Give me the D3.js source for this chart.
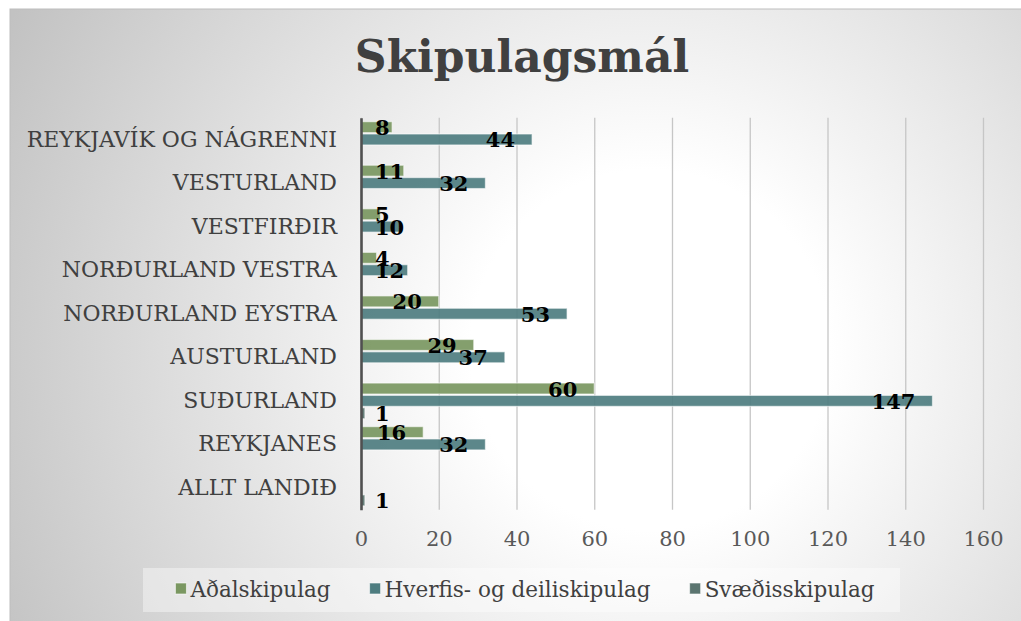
<!DOCTYPE html>
<html>
<head>
<meta charset="utf-8">
<script src="https://cdn.jsdelivr.net/npm/d3@7"></script>
<style>
  body { margin: 0; background: #ffffff; }
  svg { display: block; }
</style>
</head>
<body>
<div id="grafico"></div>
<script>
// datos
const CATEGORIAS = ["REYKJAVÍK OG NÁGRENNI", "VESTURLAND", "VESTFIRÐIR", "NORÐURLAND VESTRA",
    "NORÐURLAND EYSTRA", "AUSTURLAND", "SUÐURLAND", "REYKJANES", "ALLT LANDIÐ"];
const SERIES = ["Aðalskipulag", "Hverfis- og deiliskipulag", "Svæðisskipulag"];
const ADALSKIPULAG = [8, 11, 5, 4, 20, 29, 60, 16, null];
const HVERFISSKIPULAG = [44, 32, 10, 12, 53, 37, 147, 32, null];
const SVAEDISSKIPULAG = [null, null, null, null, null, null, 1, null, 1];
const TICKS_X = [0, 20, 40, 60, 80, 100, 120, 140, 160];
const TITULO = "Skipulagsmál";

const WIDTH = 1021;
const HEIGHT = 621;
const COLORES = ["#7a9761", "#4e7d80", "#5b7570"];
const FUENTE = "'DejaVu Serif', Georgia, serif";

const SVG = d3.select("#grafico").append("svg").attr("width", WIDTH).attr("height", HEIGHT);

// fondo con degradado radial
const defs = SVG.append("defs");
const grad = defs.append("radialGradient")
    .attr("id", "fondo")
    .attr("gradientUnits", "userSpaceOnUse")
    .attr("cx", 650).attr("cy", 350).attr("r", 720);
grad.append("stop").attr("offset", 0).attr("stop-color", "#ffffff");
grad.append("stop").attr("offset", 0.25).attr("stop-color", "#ffffff");
grad.append("stop").attr("offset", 1).attr("stop-color", "#c2c2c2");

SVG.append("rect")
    .attr("x", 10).attr("y", 9)
    .attr("width", WIDTH).attr("height", HEIGHT)
    .attr("fill", "url(#fondo)")
    .attr("stroke", "#bdbdbd")
    .attr("stroke-width", 1);

// titulo
SVG.append("text")
    .attr("x", 522).attr("y", 72)
    .attr("text-anchor", "middle")
    .style("font-family", FUENTE)
    .style("font-weight", "bold")
    .style("font-size", "44px")
    .style("fill", "#404040")
    .text(TITULO);

// escalas
var escalaX = d3.scaleLinear()
    .domain([0, 160])
    .range([361, 983]);
var escalaY = d3.scaleBand()
    .domain(CATEGORIAS)
    .range([117.7, 509.8])
    .paddingInner(0.15)
    .paddingOuter(0.075);
var escalaSerie = d3.scaleBand()
    .domain(SERIES)
    .range([0, escalaY.bandwidth()]);

// lineas de grilla
SVG.append("g")
    .attr("transform", "translate(0,117.7)")
    .call(d3.axisBottom(escalaX).tickValues(TICKS_X).tickSize(509.8 - 117.7).tickFormat(""))
    .call(g => g.select(".domain").remove())
    .call(g => g.selectAll("line").attr("stroke", "#c6c6c6").attr("stroke-width", 1.3));

// etiquetas del eje x
SVG.append("g")
    .attr("transform", "translate(0,528)")
    .call(d3.axisBottom(escalaX).tickValues(TICKS_X).tickSize(0))
    .call(g => g.select(".domain").remove())
    .call(g => g.selectAll("text")
        .style("font-family", FUENTE)
        .style("font-size", "21px")
        .style("fill", "#595959"));

// barras
var valores = [ADALSKIPULAG, HVERFISSKIPULAG, SVAEDISSKIPULAG];
var datos = [];
CATEGORIAS.forEach(function(c, i) {
    SERIES.forEach(function(s, j) {
        if (valores[j][i] != null) datos.push({ cat: c, serie: s, idx: j, valor: valores[j][i] });
    });
});

var grafico = SVG.append("g");

grafico.selectAll("rect")
    .data(datos)
    .enter().append("rect")
    .attr("x", escalaX(0))
    .attr("y", d => escalaY(d.cat) + escalaSerie(d.serie) + 0.7)
    .attr("width", d => escalaX(d.valor) - escalaX(0))
    .attr("height", escalaSerie.bandwidth() - 1.4)
    .attr("fill", d => COLORES[d.idx])
    .attr("fill-opacity", 0.92)
    .attr("stroke", "rgba(255,255,255,0.55)")
    .attr("stroke-width", 1.2);

// eje y
SVG.append("g")
    .attr("transform", "translate(" + escalaX(0) + ",0)")
    .call(d3.axisLeft(escalaY).tickSize(0).tickPadding(24))
    .call(g => g.select(".domain").attr("stroke", "#505050").attr("stroke-width", 2.6))
    .call(g => g.selectAll("text")
        .style("font-family", FUENTE)
        .style("font-size", "22px")
        .style("fill", "#404040"));

// etiquetas de datos
grafico.selectAll(".etiqueta")
    .data(datos)
    .enter().append("text")
    .attr("class", "etiqueta")
    .attr("y", d => escalaY(d.cat) + escalaSerie(d.serie) + escalaSerie.bandwidth() / 2 + 8)
    .style("font-family", FUENTE)
    .style("font-weight", "bold")
    .style("font-size", "21px")
    .style("fill", "#000000")
    .text(d => d.valor)
    .attr("x", function(d) {
        var w = this.getComputedTextLength();
        return Math.max(escalaX(0) + 14, escalaX(d.valor) - 17 - w);
    });

// leyenda
SVG.append("rect")
    .attr("x", 143).attr("y", 568)
    .attr("width", 757).attr("height", 44)
    .attr("fill", "rgba(255,255,255,0.4)");

var leyenda = SVG.append("g");
var posX = 0;
SERIES.forEach(function(s, i) {
    var item = leyenda.append("g").attr("transform", "translate(" + posX + ",0)");
    item.append("rect")
        .attr("x", 0).attr("y", 583)
        .attr("width", 11).attr("height", 11)
        .attr("fill", COLORES[i])
        .attr("stroke", "rgba(255,255,255,0.6)")
        .attr("stroke-width", 1);
    var t = item.append("text")
        .attr("x", 15).attr("y", 597)
        .style("font-family", FUENTE)
        .style("font-size", "21.5px")
        .style("fill", "#404040")
        .text(s);
    posX += 15 + t.node().getComputedTextLength() + 39;
});
var anchoLeyenda = posX - 39;
leyenda.attr("transform", "translate(" + (525 - anchoLeyenda / 2) + ",0)");
</script>
</body>
</html>
